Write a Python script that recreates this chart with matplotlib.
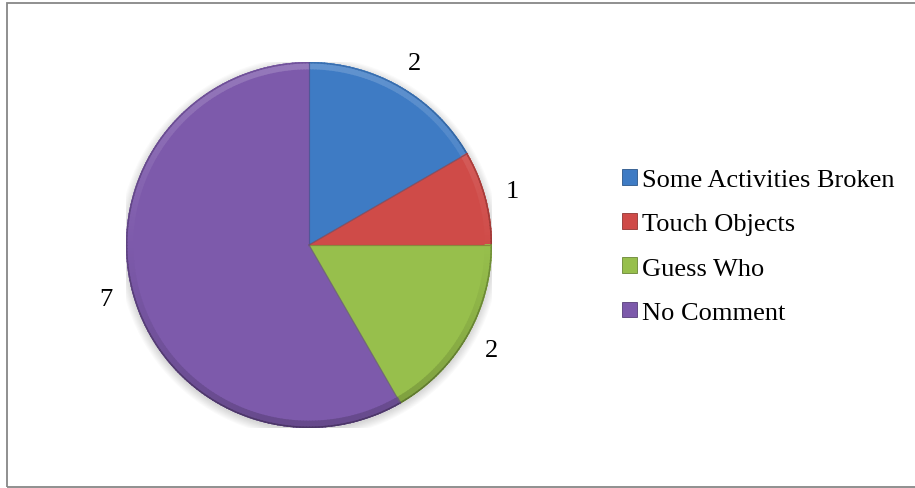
import numpy as np
import matplotlib.pyplot as plt
from matplotlib import rcParams
from matplotlib.patches import Wedge, Circle, Rectangle, Patch
from matplotlib.colors import to_rgb

rcParams['font.family'] = ['Liberation Serif', 'DejaVu Serif']

# data
categories = ['Some Activities Broken', 'Touch Objects', 'Guess Who', 'No Comment']
counts = [2, 1, 2, 7]
colors = ['#3e7bc4', '#cf4b48', '#97bf4c', '#7d5aab']

W, H = 915, 489
fig = plt.figure(figsize=(W / 100, H / 100), dpi=100)
fig.patch.set_facecolor('white')

# chart frame (right side runs past the edge)
fig.add_artist(Rectangle((6.5 / W, 1 - 488 / H), 1.0, (488 - 3.5) / H,
                         transform=fig.transFigure, fill=False,
                         edgecolor='#878787', lw=1.3))

cx, cy, r = 309, 246, 183
ax = fig.add_axes([(cx - r) / W, (H - cy - r) / H, 2 * r / W, 2 * r / H])

# soft shadow under the pie
for k in range(8):
    ax.add_patch(Circle((0.0, -0.012), 1.0 + 0.006 * k, color='black',
                        alpha=0.018, lw=0, zorder=0))

wedges, texts = ax.pie(counts, colors=colors, startangle=90, counterclock=False,
                       labels=[str(c) for c in counts], labeldistance=1.15,
                       wedgeprops=dict(lw=0), textprops=dict(fontsize=19))
for t in texts:
    t.set_ha('center')
    t.set_va('center')


def shade(c, f):
    c = np.array(to_rgb(c))
    if f >= 0:
        return tuple(c + (1 - c) * f)
    return tuple(c * (1 + f))


# bevelled rim: lighter towards the top, darker towards the bottom
for w, c in zip(wedges, colors):
    a0, a1 = w.theta1, w.theta2
    steps = max(int(a1 - a0), 2)
    edges = np.linspace(a0, a1, steps + 1)
    for s0, s1 in zip(edges[:-1], edges[1:]):
        mid = np.radians((s0 + s1) / 2)
        f = 0.18 * np.sin(mid)
        ax.add_patch(Wedge((0, 0), 1.0, s0, s1 + 0.3, width=0.04,
                           color=shade(c, f), lw=0, zorder=2))
        ax.add_patch(Wedge((0, 0), 1.0, s0, s1 + 0.3, width=0.008,
                           color=shade(c, -0.25 + 0.15 * np.sin(mid)), lw=0, zorder=3))
    # seams between slices
    for ang in (a0, a1):
        t = np.radians(ang)
        ax.plot([0, np.cos(t)], [0, np.sin(t)], color=shade(c, -0.2), lw=0.8,
                zorder=3, alpha=0.6)

ax.set_xlim(-1, 1)
ax.set_ylim(-1, 1)
ax.set_aspect('equal')
ax.axis('off')

handles = [Patch(facecolor=c, edgecolor=shade(c, -0.3), lw=0.6) for c in colors]
fig.legend(handles, categories, loc='upper left',
           bbox_to_anchor=(622 / W, 1 - 170 / H), frameon=False,
           fontsize=19, handlelength=0.55, handleheight=0.55,
           handletextpad=0.22, labelspacing=0.83, borderpad=0, borderaxespad=0)

fig.savefig('out.png', dpi=100, facecolor='white')
